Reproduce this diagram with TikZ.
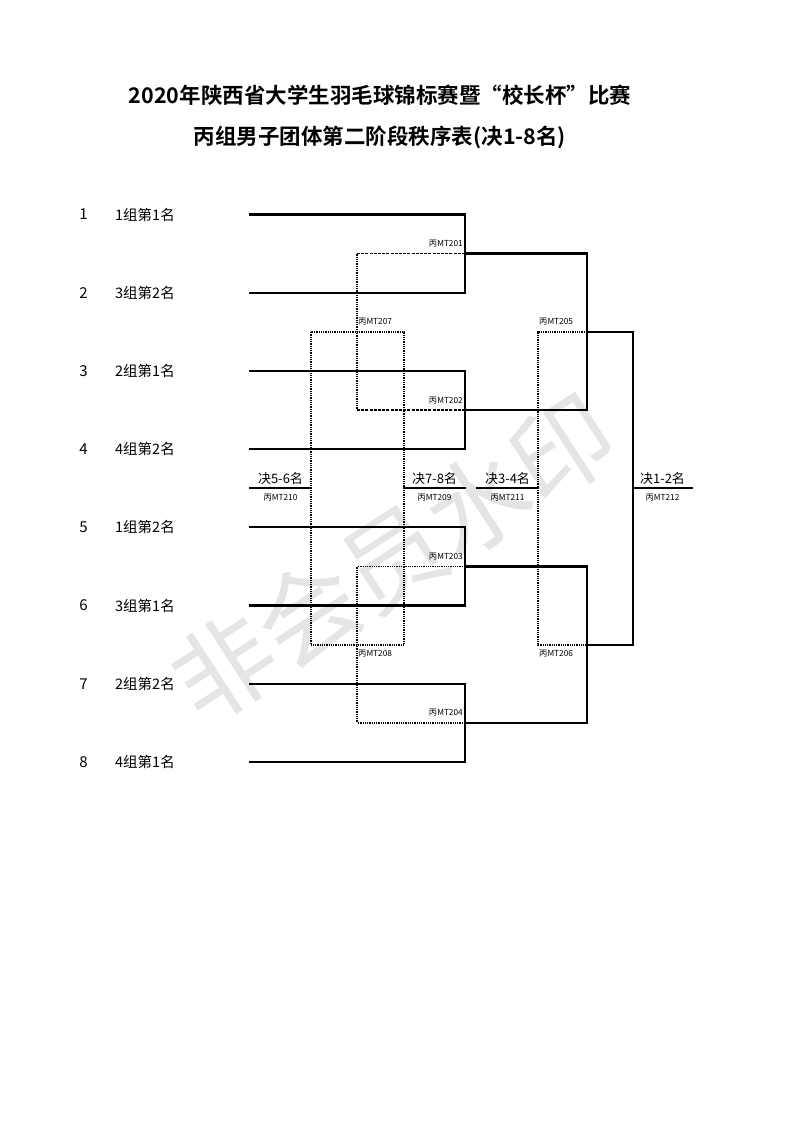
\documentclass[tikz,border=0pt]{standalone}
\usepackage{fontspec}
\setmainfont{Noto Sans CJK SC}
\newfontfamily\cjkbold{Noto Sans CJK SC Bold}
\begin{document}
\begin{tikzpicture}[x=1pt,y=-1pt,
  wire/.style={line width=2.4pt,line cap=rect},
  losedash/.style={line width=1.7pt,dash pattern=on 3pt off 1.2pt},
  losedot/.style={line width=1.7pt,dash pattern=on 1pt off 0.8pt},
  seed/.style={font=\fontsize{15}{16}\selectfont,inner sep=0pt},
  team/.style={font=\fontsize{14.5}{16}\selectfont,anchor=west,inner sep=0pt},
  mlab/.style={font=\fontsize{8.3}{9}\selectfont,inner sep=0pt},
  place/.style={font=\fontsize{13}{15}\selectfont,inner sep=0pt},
  ttl/.style={font=\cjkbold\fontsize{21.5}{24}\selectfont,inner sep=0pt}]
\fill[white] (0,0) rectangle (793,1122);
\path[use as bounding box] (0,0) rectangle (793,1122);
% watermark
\node[rotate=33,text=black!10,font=\fontsize{101}{110}\selectfont,inner sep=0pt] (wm) at (393,558) {非会员水印};
% titles
\node[ttl] (t1) at (380,95) {2020年陕西省大学生羽毛球锦标赛暨“校长杯”比赛};
\node[ttl] (t2) at (380,137) {丙组男子团体第二阶段秩序表(决1-8名)};
% rows
\foreach \i/\y/\t in {1/214.5/1组第1名,2/292.7/3组第2名,3/370.8/2组第1名,4/449/4组第2名,5/527/1组第2名,6/605.5/3组第1名,7/684/2组第2名,8/762/4组第1名}{
  \node[seed] (n\i) at (83.5,\y) {\i};
  \node[team] (l\i) at (115,\y) {\t};
  \coordinate (p\i) at (250,\y);
  \coordinate (q\i) at (465,\y);
}
% round 1 junctions
\coordinate (m1) at (465,253.5);
\coordinate (m2) at (465,410);
\coordinate (m3) at (465,566.5);
\coordinate (m4) at (465,723);
% winners side
\coordinate (w1) at (587,253.5);
\coordinate (w2) at (587,410);
\coordinate (w3) at (587,566.5);
\coordinate (w4) at (587,723);
\coordinate (s5) at (587,331.7);
\coordinate (s6) at (587,644.7);
\coordinate (f5) at (633,331.7);
\coordinate (f6) at (633,644.7);
\coordinate (fm) at (633,488.2);
\coordinate (fe) at (692,488.2);
% losers of round 1
\coordinate (d1) at (357,253.5);
\coordinate (d2) at (357,410);
\coordinate (d3) at (357,566.5);
\coordinate (d4) at (357,723);
\coordinate (g7l) at (311,331.7);
\coordinate (g8r) at (404,644.7);
\coordinate (k56) at (311,488.2);
\coordinate (e56) at (250,488.2);
\coordinate (k78) at (404,488.2);
\coordinate (e78) at (465,488.2);
% losers of round 2
\coordinate (h5) at (538,331.7);
\coordinate (h6) at (538,644.7);
\coordinate (k34) at (538,488.2);
\coordinate (e34) at (477,488.2);

% dotted / dashed loser lines
\draw[losedash] (m1) -- (d1);
\draw[losedash] (m2) -- (d2);
\draw[losedot] (m3) -- (d3);
\draw[losedot] (m4) -- (d4);
\draw[losedot] (d1) -- (d2);
\draw[losedot] (d3) -- (d4);
\draw[losedot] (g7l) rectangle (g8r);
\draw[losedot] (s5) -- (h5) -- (h6) -- (s6);

% main bracket
\draw[wire] (p1) -- (q1) -- (q2) -- (p2);
\draw[wire] (p3) -- (q3) -- (q4) -- (p4);
\draw[wire] (p5) -- (q5) -- (q6) -- (p6);
\draw[wire] (p7) -- (q7) -- (q8) -- (p8);
\draw[wire] (m1) -- (w1) -- (w2) -- (m2);
\draw[wire] (m3) -- (w3) -- (w4) -- (m4);
\draw[wire] (s5) -- (f5) -- (f6) -- (s6);
\draw[wire] (fm) -- (fe);
\draw[wire] (e56) -- (k56);
\draw[wire] (k78) -- (e78);
\draw[wire] (e34) -- (k34);

% match labels
\node[mlab,anchor=east] (a201) at (463,243.5) {丙MT201};
\node[mlab,anchor=east] (a202) at (463,400.5) {丙MT202};
\node[mlab,anchor=east] (a203) at (463,557) {丙MT203};
\node[mlab,anchor=east] (a204) at (463,713) {丙MT204};
\node[mlab,anchor=west] (a207) at (358,322) {丙MT207};
\node[mlab,anchor=west] (a208) at (358,654) {丙MT208};
\node[mlab,anchor=west] (a205) at (539,322) {丙MT205};
\node[mlab,anchor=west] (a206) at (539,654) {丙MT206};
\node[mlab] (a210) at (280.5,498) {丙MT210};
\node[mlab] (a209) at (434.5,498) {丙MT209};
\node[mlab] (a211) at (507.5,498) {丙MT211};
\node[mlab] (a212) at (662.5,498) {丙MT212};
% placement labels
\node[place] (b56) at (280.5,478.5) {决5-6名};
\node[place] (b78) at (434.5,478.5) {决7-8名};
\node[place] (b34) at (507.5,478.5) {决3-4名};
\node[place] (b12) at (662.5,478.5) {决1-2名};
\end{tikzpicture}
\end{document}
